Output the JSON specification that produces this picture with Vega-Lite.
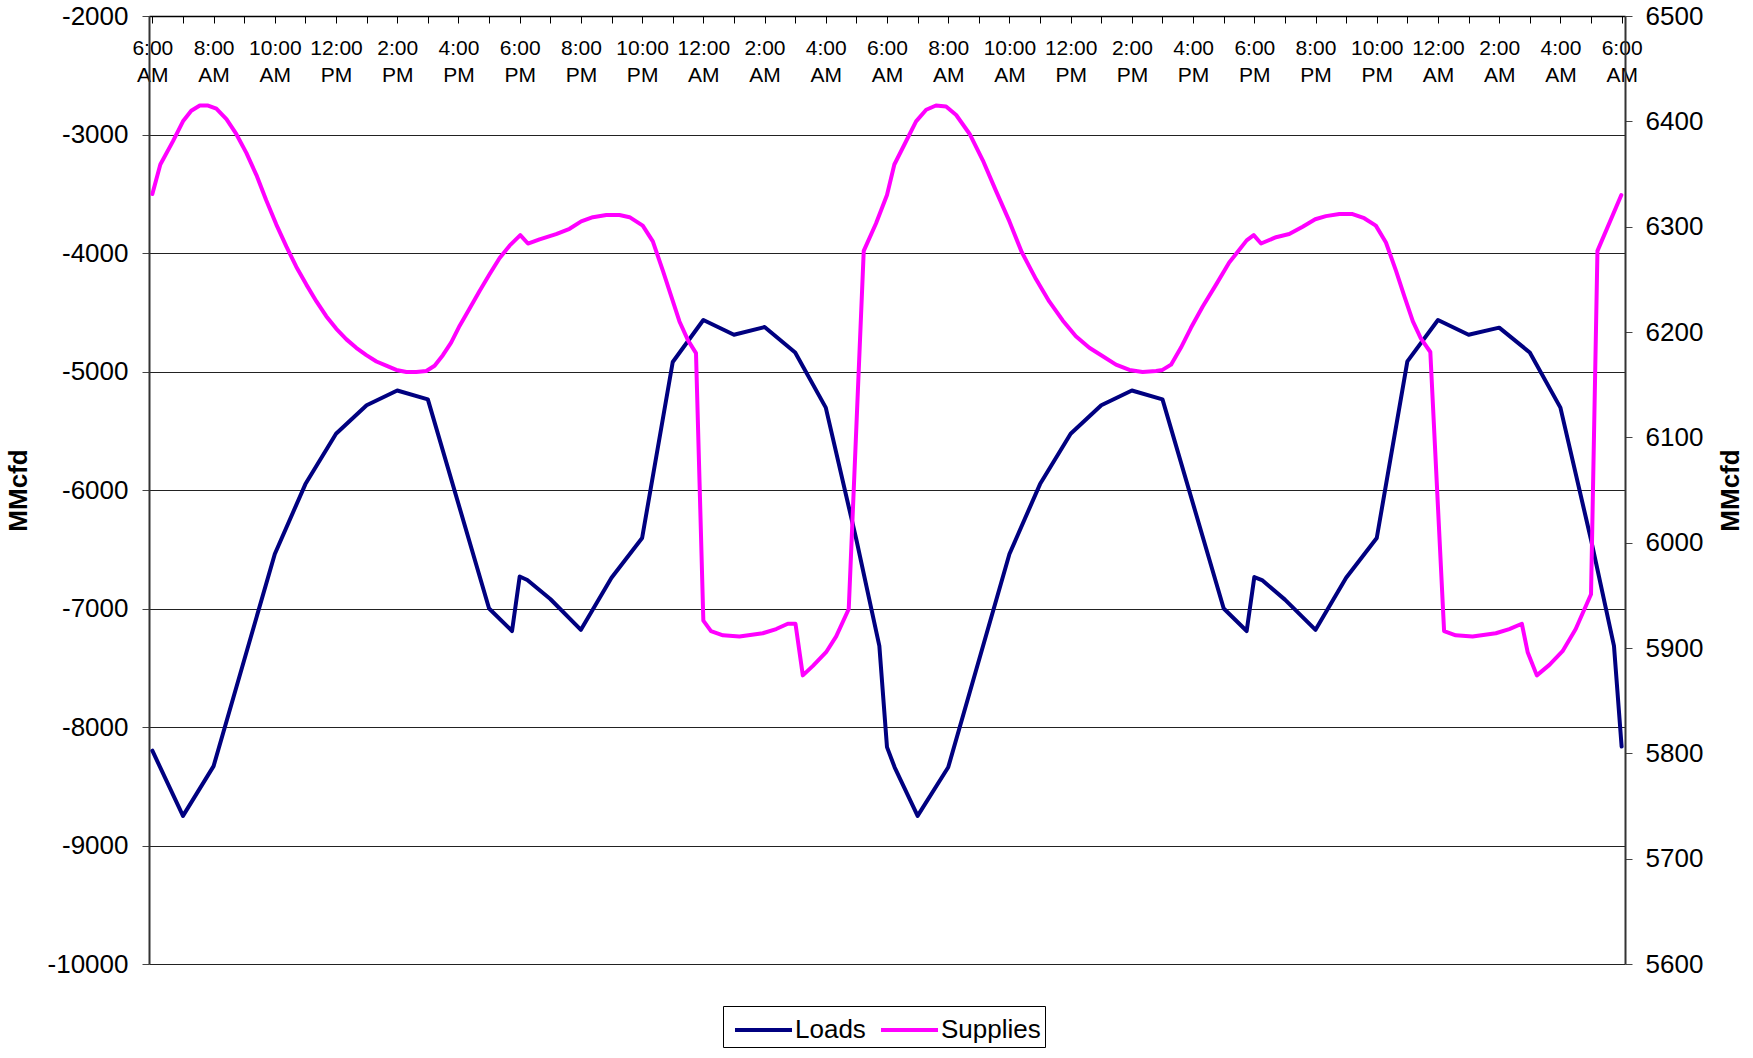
{
  "$schema": "https://vega.github.io/schema/vega-lite/v6.json",
  "autosize": {"type": "none"},
  "width": 1476,
  "height": 948,
  "padding": {"left": 149, "top": 16, "right": 128, "bottom": 94},
  "background": "white",
  "config": {
    "view": {"stroke": null},
    "font": "Liberation Sans",
    "axis": {"labelFont": "Liberation Sans", "titleFont": "Liberation Sans", "labelColor": "black", "titleColor": "black"}
  },
  "data": {"values": [
    {"h":0,"s":"Loads","v":-8200},{"h":1,"s":"Loads","v":-8750},{"h":2,"s":"Loads","v":-8330},{"h":4,"s":"Loads","v":-6540},
    {"h":5,"s":"Loads","v":-5950},{"h":6,"s":"Loads","v":-5525},{"h":7,"s":"Loads","v":-5285},{"h":8,"s":"Loads","v":-5160},
    {"h":9,"s":"Loads","v":-5235},{"h":11,"s":"Loads","v":-7000},{"h":11.75,"s":"Loads","v":-7190},{"h":12,"s":"Loads","v":-6730},
    {"h":12.25,"s":"Loads","v":-6760},{"h":13,"s":"Loads","v":-6920},{"h":14,"s":"Loads","v":-7180},{"h":15,"s":"Loads","v":-6740},
    {"h":16,"s":"Loads","v":-6405},{"h":17,"s":"Loads","v":-4920},{"h":18,"s":"Loads","v":-4565},{"h":19,"s":"Loads","v":-4690},
    {"h":20,"s":"Loads","v":-4625},{"h":21,"s":"Loads","v":-4840},{"h":22,"s":"Loads","v":-5305},{"h":23,"s":"Loads","v":-6420},
    {"h":23.75,"s":"Loads","v":-7315},{"h":24,"s":"Loads","v":-8170},{"h":24.25,"s":"Loads","v":-8340},{"h":25,"s":"Loads","v":-8750},
    {"h":26,"s":"Loads","v":-8340},{"h":28,"s":"Loads","v":-6540},{"h":29,"s":"Loads","v":-5950},{"h":30,"s":"Loads","v":-5525},
    {"h":31,"s":"Loads","v":-5285},{"h":32,"s":"Loads","v":-5160},{"h":33,"s":"Loads","v":-5235},{"h":35,"s":"Loads","v":-7000},
    {"h":35.75,"s":"Loads","v":-7190},{"h":36,"s":"Loads","v":-6735},{"h":36.25,"s":"Loads","v":-6760},{"h":37,"s":"Loads","v":-6925},
    {"h":38,"s":"Loads","v":-7180},{"h":39,"s":"Loads","v":-6740},{"h":40,"s":"Loads","v":-6405},{"h":41,"s":"Loads","v":-4915},
    {"h":42,"s":"Loads","v":-4565},{"h":43,"s":"Loads","v":-4690},{"h":44,"s":"Loads","v":-4630},{"h":45,"s":"Loads","v":-4840},
    {"h":46,"s":"Loads","v":-5305},{"h":47,"s":"Loads","v":-6420},{"h":47.75,"s":"Loads","v":-7315},{"h":48,"s":"Loads","v":-8165},

    {"h":0,"s":"Supplies","v":6331},{"h":0.26,"s":"Supplies","v":6359},{"h":0.67,"s":"Supplies","v":6381},{"h":1.0,"s":"Supplies","v":6400},
    {"h":1.27,"s":"Supplies","v":6410},{"h":1.55,"s":"Supplies","v":6415},{"h":1.82,"s":"Supplies","v":6415},{"h":2.09,"s":"Supplies","v":6412},
    {"h":2.42,"s":"Supplies","v":6402},{"h":2.74,"s":"Supplies","v":6388},{"h":3.07,"s":"Supplies","v":6370},{"h":3.4,"s":"Supplies","v":6349},
    {"h":3.72,"s":"Supplies","v":6325},{"h":4.05,"s":"Supplies","v":6302},{"h":4.38,"s":"Supplies","v":6281},{"h":4.7,"s":"Supplies","v":6262},
    {"h":5.03,"s":"Supplies","v":6245},{"h":5.36,"s":"Supplies","v":6229},{"h":5.68,"s":"Supplies","v":6215},{"h":6.01,"s":"Supplies","v":6203},
    {"h":6.34,"s":"Supplies","v":6193},{"h":6.66,"s":"Supplies","v":6185},{"h":6.99,"s":"Supplies","v":6178},{"h":7.32,"s":"Supplies","v":6172},
    {"h":7.64,"s":"Supplies","v":6168},{"h":7.97,"s":"Supplies","v":6164},{"h":8.3,"s":"Supplies","v":6162},{"h":8.62,"s":"Supplies","v":6162},
    {"h":8.95,"s":"Supplies","v":6163},{"h":9.22,"s":"Supplies","v":6168},{"h":9.49,"s":"Supplies","v":6178},{"h":9.76,"s":"Supplies","v":6190},
    {"h":10.04,"s":"Supplies","v":6206},{"h":10.36,"s":"Supplies","v":6222},{"h":10.69,"s":"Supplies","v":6239},{"h":11.02,"s":"Supplies","v":6255},
    {"h":11.34,"s":"Supplies","v":6270},{"h":11.67,"s":"Supplies","v":6282},{"h":12.02,"s":"Supplies","v":6292},{"h":12.27,"s":"Supplies","v":6284},
    {"h":12.65,"s":"Supplies","v":6288},{"h":13.19,"s":"Supplies","v":6293},{"h":13.63,"s":"Supplies","v":6298},{"h":14.01,"s":"Supplies","v":6305},
    {"h":14.39,"s":"Supplies","v":6309},{"h":14.83,"s":"Supplies","v":6311},{"h":15.26,"s":"Supplies","v":6311},{"h":15.59,"s":"Supplies","v":6309},
    {"h":16.02,"s":"Supplies","v":6301},{"h":16.35,"s":"Supplies","v":6286},{"h":16.68,"s":"Supplies","v":6258},{"h":16.95,"s":"Supplies","v":6234},
    {"h":17.22,"s":"Supplies","v":6210},{"h":17.5,"s":"Supplies","v":6192},{"h":17.76,"s":"Supplies","v":6180},{"h":18.0,"s":"Supplies","v":5926},
    {"h":18.25,"s":"Supplies","v":5916},{"h":18.64,"s":"Supplies","v":5912},{"h":19.18,"s":"Supplies","v":5911},{"h":19.94,"s":"Supplies","v":5914},
    {"h":20.38,"s":"Supplies","v":5918},{"h":20.76,"s":"Supplies","v":5923},{"h":21.01,"s":"Supplies","v":5923},{"h":21.25,"s":"Supplies","v":5874},
    {"h":21.58,"s":"Supplies","v":5883},{"h":22.01,"s":"Supplies","v":5896},{"h":22.34,"s":"Supplies","v":5911},{"h":22.75,"s":"Supplies","v":5937},
    {"h":23.24,"s":"Supplies","v":6277},{"h":23.64,"s":"Supplies","v":6303},{"h":24.0,"s":"Supplies","v":6330},{"h":24.24,"s":"Supplies","v":6359},
    {"h":24.57,"s":"Supplies","v":6378},{"h":24.95,"s":"Supplies","v":6400},{"h":25.28,"s":"Supplies","v":6411},{"h":25.6,"s":"Supplies","v":6415},
    {"h":25.93,"s":"Supplies","v":6414},{"h":26.26,"s":"Supplies","v":6406},{"h":26.7,"s":"Supplies","v":6388},{"h":27.13,"s":"Supplies","v":6363},
    {"h":27.56,"s":"Supplies","v":6334},{"h":28.0,"s":"Supplies","v":6305},{"h":28.4,"s":"Supplies","v":6276},{"h":28.87,"s":"Supplies","v":6250},
    {"h":29.3,"s":"Supplies","v":6229},{"h":29.74,"s":"Supplies","v":6211},{"h":30.17,"s":"Supplies","v":6196},{"h":30.61,"s":"Supplies","v":6185},
    {"h":31.05,"s":"Supplies","v":6177},{"h":31.48,"s":"Supplies","v":6169},{"h":31.92,"s":"Supplies","v":6164},{"h":32.35,"s":"Supplies","v":6162},
    {"h":32.79,"s":"Supplies","v":6163},{"h":33.0,"s":"Supplies","v":6164},{"h":33.28,"s":"Supplies","v":6169},{"h":33.6,"s":"Supplies","v":6185},
    {"h":33.93,"s":"Supplies","v":6204},{"h":34.31,"s":"Supplies","v":6224},{"h":34.75,"s":"Supplies","v":6245},{"h":35.18,"s":"Supplies","v":6266},
    {"h":35.51,"s":"Supplies","v":6278},{"h":35.75,"s":"Supplies","v":6287},{"h":35.98,"s":"Supplies","v":6292},{"h":36.22,"s":"Supplies","v":6284},
    {"h":36.71,"s":"Supplies","v":6290},{"h":37.14,"s":"Supplies","v":6293},{"h":37.58,"s":"Supplies","v":6300},{"h":37.99,"s":"Supplies","v":6307},
    {"h":38.34,"s":"Supplies","v":6310},{"h":38.78,"s":"Supplies","v":6312},{"h":39.21,"s":"Supplies","v":6312},{"h":39.59,"s":"Supplies","v":6308},
    {"h":39.97,"s":"Supplies","v":6301},{"h":40.3,"s":"Supplies","v":6285},{"h":40.63,"s":"Supplies","v":6258},{"h":40.9,"s":"Supplies","v":6234},
    {"h":41.18,"s":"Supplies","v":6210},{"h":41.44,"s":"Supplies","v":6194},{"h":41.75,"s":"Supplies","v":6181},{"h":42.2,"s":"Supplies","v":5916},
    {"h":42.58,"s":"Supplies","v":5912},{"h":43.13,"s":"Supplies","v":5911},{"h":43.89,"s":"Supplies","v":5914},{"h":44.33,"s":"Supplies","v":5918},
    {"h":44.74,"s":"Supplies","v":5923},{"h":44.93,"s":"Supplies","v":5896},{"h":45.23,"s":"Supplies","v":5874},{"h":45.64,"s":"Supplies","v":5884},
    {"h":46.07,"s":"Supplies","v":5897},{"h":46.5,"s":"Supplies","v":5918},{"h":47.0,"s":"Supplies","v":5951},{"h":47.21,"s":"Supplies","v":6277},
    {"h":47.99,"s":"Supplies","v":6330}
  ]},
  "encoding": {
    "x": {
      "field": "h", "type": "quantitative",
      "scale": {"domain": [-0.11, 48.11], "nice": false, "zero": false},
      "axis": {
        "orient": "bottom", "offset": -948, "title": null,
        "values": [0,1,2,3,4,5,6,7,8,9,10,11,12,13,14,15,16,17,18,19,20,21,22,23,24,25,26,27,28,29,30,31,32,33,34,35,36,37,38,39,40,41,42,43,44,45,46,47,48],
        "labelExpr": "datum.value % 2 != 0 ? '' : [ ((((6 + datum.value) % 24) % 12) == 0 ? 12 : (((6 + datum.value) % 24) % 12)) + ':00', (((6 + datum.value) % 24) < 12 ? 'AM' : 'PM') ]",
        "labelOverlap": false, "labelFlush": false, "labelBound": false,
        "grid": false, "tickSize": 7, "tickColor": "black", "domainColor": "black", "domainWidth": 1.5,
        "labelFontSize": 21, "labelPadding": 14, "labelLineHeight": 27
      }
    }
  },
  "layer": [
    {
      "transform": [{"filter": "datum.s == 'Loads'"}],
      "mark": {"type": "line", "strokeWidth": 4, "strokeJoin": "round", "strokeCap": "round"},
      "encoding": {
        "y": {
          "field": "v", "type": "quantitative",
          "scale": {"domain": [-10000, -2000], "nice": false, "zero": false},
          "axis": {
            "orient": "left", "values": [-10000,-9000,-8000,-7000,-6000,-5000,-4000,-3000,-2000],
            "labelExpr": "'' + datum.value",
            "grid": true, "gridColor": "#222", "gridWidth": 1, "tickSize": 7, "tickColor": "#444",
            "domainColor": "#333", "domainWidth": 2, "labelFontSize": 26, "labelPadding": 14, "labelFlush": false,
            "title": "MMcfd", "titleFontSize": 26, "titleFontWeight": "bold", "titleAngle": 270,
            "titleX": -131, "titleY": 474, "titleAlign": "center", "titleBaseline": "middle"
          }
        },
        "color": {
          "field": "s", "type": "nominal",
          "scale": {"domain": ["Loads", "Supplies"], "range": ["#000080", "#FF00FF"]},
          "legend": {
            "orient": "none", "legendX": 574, "legendY": 990, "direction": "horizontal", "title": null,
            "symbolType": "M-0.667,0H2.5", "symbolSize": 1296, "symbolStrokeWidth": 4, "symbolFillColor": "transparent",
            "labelFontSize": 26, "labelFont": "Liberation Sans", "labelColor": "black",
            "strokeColor": "black", "fillColor": "white", "padding": 4, "columnPadding": 6, "labelOffset": 28
          }
        }
      }
    },
    {
      "transform": [{"filter": "datum.s == 'Supplies'"}],
      "mark": {"type": "line", "strokeWidth": 4, "strokeJoin": "round", "strokeCap": "round"},
      "encoding": {
        "y": {
          "field": "v", "type": "quantitative",
          "scale": {"domain": [5600, 6500], "nice": false, "zero": false},
          "axis": {
            "orient": "right", "values": [5600,5700,5800,5900,6000,6100,6200,6300,6400,6500],
            "labelExpr": "'' + datum.value",
            "grid": false, "tickSize": 7, "tickColor": "#444",
            "domainColor": "#333", "domainWidth": 2, "labelFontSize": 26, "labelPadding": 13, "labelFlush": false,
            "title": "MMcfd", "titleFontSize": 26, "titleFontWeight": "bold", "titleAngle": 270,
            "titleX": 105, "titleY": 474, "titleAlign": "center", "titleBaseline": "middle"
          }
        },
        "color": {"field": "s", "type": "nominal", "scale": {"domain": ["Loads", "Supplies"], "range": ["#000080", "#FF00FF"]}}
      }
    }
  ],
  "resolve": {"scale": {"y": "independent"}, "axis": {"y": "independent"}}
}
